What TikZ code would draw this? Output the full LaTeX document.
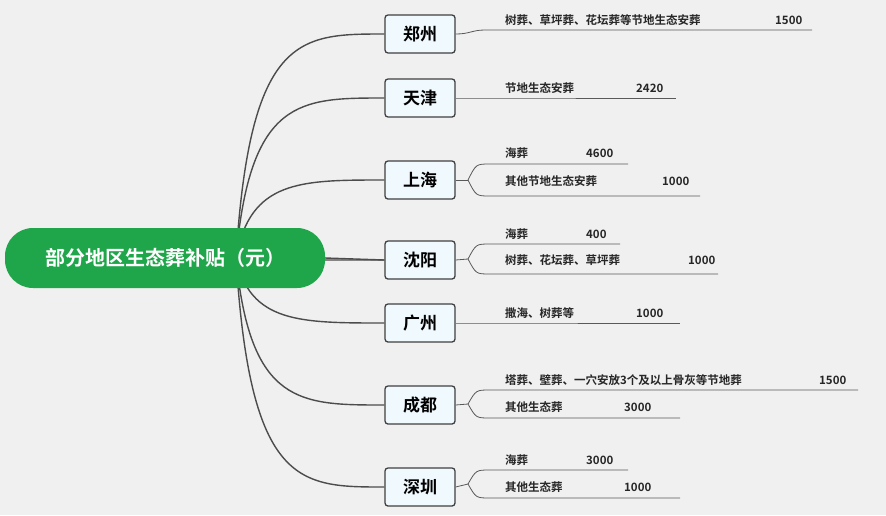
\documentclass[tikz,border=0pt]{standalone}
\usepackage{fontspec}
\setmainfont{Noto Sans CJK SC}
\newfontfamily\cjkb{Noto Sans CJK SC Bold}
\definecolor{rootg}{HTML}{1FA64A}
\begin{document}
\begin{tikzpicture}[x=1pt,y=-1pt,
  city/.style={draw=black!75,line width=1.3pt,fill=cyan!6,rounded corners=3pt,minimum width=70pt,minimum height=38pt,font=\cjkb\fontsize{17}{17}\selectfont},
  conn/.style={draw=black!70,line width=1.4pt},
  leaf/.style={draw=black!65,line width=0.8pt},
  lt/.style={anchor=west,font=\cjkb\fontsize{11.5}{11.5}\selectfont,text=black!85,inner sep=0pt}]
\fill[gray!12] (0,0) rectangle (886,515);
\useasboundingbox (0,0) rectangle (886,515);
\foreach \n/\t/\y in {zz/郑州/34,tj/天津/98,sh/上海/180,sy/沈阳/260,gz/广州/323,cd/成都/405,szn/深圳/487}{
  \node[city] (\n) at (420,\y) {\t};
  \coordinate (s\n) at (236,258);
  \draw[conn] (s\n) .. controls (250,\y) and (300,\y) .. (\n.west);
}
\node[fill=rootg,rounded corners=28pt,minimum width=320pt,minimum height=60pt,text=white,font=\cjkb\fontsize{20}{20}\selectfont] (root) at (165,258) {部分地区生态葬补贴（元）};
\draw[conn] (root.east) -- (sy.west);
% single leaves
\coordinate (ezz) at (485,30); \coordinate (fzz) at (812,30);
\draw[leaf] (zz.east) .. controls (470,34) and (472,30) .. (ezz) -- (fzz);
\node[lt] at (505,20) {树葬、草坪葬、花坛葬等节地生态安葬};
\node[lt] at (775,20) {1500};
\coordinate (etj) at (478,98); \coordinate (ftj) at (676,98);
\draw[leaf] (tj.east) -- (etj) -- (ftj);
\node[lt] at (505,88) {节地生态安葬};
\node[lt] at (636,88) {2420};
\coordinate (egz) at (478,323); \coordinate (fgz) at (680,323);
\draw[leaf] (gz.east) -- (egz) -- (fgz);
\node[lt] at (505,313) {撒海、树葬等};
\node[lt] at (636,313) {1000};
% double leaves
\newcommand\double[5]{% node, y center, y1, x1end, x2end
  \coordinate (b#1) at (468,#2);
  \draw[leaf] (#1.east) -- (b#1);
  \draw[leaf] (b#1) .. controls (476,#3) .. (490,#3) -- (#4,#3);
  \draw[leaf] (b#1) .. controls (476,#2+#2-#3) .. (490,#2+#2-#3) -- (#5,#2+#2-#3);
}
\double{sh}{180}{164}{628}{700}
\node[lt] at (505,153) {海葬}; \node[lt] at (586,153) {4600};
\node[lt] at (505,181) {其他节地生态安葬}; \node[lt] at (662,181) {1000};
\double{sy}{259}{244}{620}{718}
\node[lt] at (505,234) {海葬}; \node[lt] at (586,234) {400};
\node[lt] at (505,260) {树葬、花坛葬、草坪葬}; \node[lt] at (688,260) {1000};
\double{cd}{404}{390}{858}{680}
\node[lt] at (505,380) {塔葬、壁葬、一穴安放3个及以上骨灰等节地葬}; \node[lt] at (819,380) {1500};
\node[lt] at (505,407) {其他生态葬}; \node[lt] at (624,407) {3000};
\double{szn}{484}{470}{628}{680}
\node[lt] at (505,460) {海葬}; \node[lt] at (586,460) {3000};
\node[lt] at (505,487) {其他生态葬}; \node[lt] at (624,487) {1000};
\end{tikzpicture}
\end{document}
